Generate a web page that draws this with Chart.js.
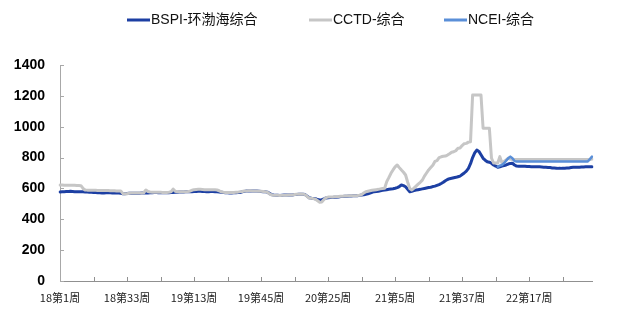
<!DOCTYPE html>
<html><head><meta charset="utf-8">
<script src="https://cdn.jsdelivr.net/npm/chart.js@4"></script>
<style>html,body{margin:0;padding:0;background:#fff}#wrap{width:628px;height:312px}</style>
</head><body><div id="wrap"><canvas id="c" width="628" height="312"></canvas></div>
<script>
const seriesNames = ['BSPI-环渤海综合', 'CCTD-综合', 'NCEI-综合'];
const yMin = 0, yMax = 1400, yStep = 200;
const labelEvery = 32, tickEvery = 16;
const years = [18, 19, 20, 21, 22];
const weeksPerYear = 52;
const pointCount = 255;
const weekLabels = [];
for (const yy of years) for (let w = 1; w <= weeksPerYear; w++) weekLabels.push(yy + '第' + w + '周');
weekLabels.length = pointCount;

const bspi = [
 577,578,579,580,580,581,580,579,579,578,578,578,577,577,576,
 575,574,573,572,572,571,571,572,572,572,571,571,570,570,569,
 566,566,567, 568,568,568,569,569,569,570,570, 571,571, 572,572,573,573,572,572,572,572,572,
 572,573,574,575, 576,577,577,577,578,578,578, 579,
 580,580,581,581,580,580,579,579,580,580,579,578,577, 575,
 573,572,572,571,571,572,572,573,574, 578,581,583,583,584,584,583,583,582,
 580,579,578,576, 568,560,557,556,
 556,555,556,557,557,558,557,558, 560,561,562,563,562,560, 550, 540,537,535,533, 528, 525,527, 532,538,
 540,541,542,543,543,544, 547, 548,549,550,551,551,552,552,553,555,557,
 559,562,565,570,575,579,580,582,585,588,590,
 592,594,596,598,601,605,612,622,618,611,
 595,579,582,586,590,592,594,597,600,603,
 606,608,612,615,620,625,632,640,650,658,
 663,666,669,672,676,680,690,700,712,730,
 760,800,830,849,840,818,795,783,773,770,
 763,752,
 745,737,740,745,748,752,758,762,763,752,
 745,744,744,743,743,742,742,741,741,741,
 741,740,739,738,737,736,735,733,732,731,
 730,730,731,731,732,733,735,737,737,738,
 738,739,739,740,740,741,741
];

const cctd = [
 622,622,621,621,621,620,620,620,619,619,618, 600,
 590,589,589,588,588,588,587,587,587,586,586,586,585,585,585,584,584,584,
 566,565,566, 569,570,570,570,571,571,571,572, 590, 580,577,576,575,575,575,575,574,574,574,
 575,578, 596, 582,579,578,578,578,579,580,582, 588,
 592,593,594,594,593,592,592,591,592,592,591,590,585, 578,
 575,574,574,573,573,574,575,576,578, 580,583,584,585,585,584,584,583,582,
 581,580,579,576, 565,558,556,555,
 555,554,555,556,556,557,557,558, 560,562,563,564,563,560, 548, 538,536,534,530, 520, 510,512, 528,540,
 544,545,545,546,546,547, 549, 550,551,551,552,552,553,553,554,556,560,
 570,579,582,585,588,590,592,594,597,600,601,
 644,670,698,720,740,752,735,719,705,687,
 640,600,590,602,615,628,640,654,680,700,
 720,735,750,775,780,800,805,808,810,816,
 825,835,838,845,860,862,878,890,892,900,
 903,1205,1205,1205,1205,1205,990,990,990,990,
 797,765,
 765,765,806,765,775,785,797,790,788,788,
 788,788,788,788,788,788,788,788,788,788,
 788,788,788,788,788,788,788,788,788,788,
 788,788,788,788,788,788,788,788,788,788,
 788,788,788,788,788,788,790
];

const nceiStart = 209;
const nceiValues = [
 740,748,752,763,780,795,806,795,777,
 775,775,775,775,775,775,775,775,775,775,
 775,775,775,775,775,775,775,775,775,775,
 775,775,775,775,775,775,775,775,775,775,
 775,775,775,775,775,
 790,806
];
const ncei = new Array(nceiStart).fill(null).concat(nceiValues);

const colors = ['#1c3fa3', '#c6c6c6', '#5a8fd8'];
const legendX = [127, 309, 444];

const axisTicksPlugin = {
  id: 'innerTicks',
  afterDraw(chart) {
    const {ctx, chartArea: a, scales: {x, y}} = chart;
    ctx.save();
    ctx.lineWidth = 1;
    ctx.strokeStyle = '#a8a8a8';
    y.ticks.forEach((t, k) => {
      const py = Math.round(y.getPixelForTick(k)) + 0.5;
      ctx.beginPath(); ctx.moveTo(a.left, py); ctx.lineTo(a.left + 4, py); ctx.stroke();
    });
    ctx.strokeStyle = '#909090';
    x.ticks.forEach((t, k) => {
      if (k > 0 && k % tickEvery === 0) {
        const px = Math.round(x.getPixelForTick(k)) + 0.5;
        ctx.beginPath(); ctx.moveTo(px, a.bottom); ctx.lineTo(px, a.bottom - 4); ctx.stroke();
      }
    });
    ctx.restore();
  }
};

const legendPlugin = {
  id: 'topLegend',
  afterDraw(chart) {
    const ctx = chart.ctx;
    ctx.save();
    ctx.font = '14px "Liberation Sans", "Noto Sans CJK SC", sans-serif';
    ctx.textBaseline = 'middle';
    chart.data.datasets.forEach((ds, k) => {
      const x0 = legendX[k], y0 = 20;
      ctx.strokeStyle = ds.borderColor; ctx.lineWidth = 3;
      ctx.beginPath(); ctx.moveTo(x0, y0); ctx.lineTo(x0 + 23, y0); ctx.stroke();
      ctx.fillStyle = '#111';
      ctx.fillText(ds.label, x0 + 24, y0);
    });
    ctx.restore();
  }
};

new Chart(document.getElementById('c'), {
  type: 'line',
  data: {
    labels: weekLabels,
    datasets: [
      {label: seriesNames[0], data: bspi, borderColor: colors[0], borderWidth: 3, order: 3},
      {label: seriesNames[1], data: cctd, borderColor: colors[1], borderWidth: 3, order: 2},
      {label: seriesNames[2], data: ncei, borderColor: colors[2], borderWidth: 2.5, order: 1}
    ]
  },
  options: {
    responsive: false,
    animation: false,
    devicePixelRatio: 1,
    layout: {padding: {left: 0, right: 36, top: 65, bottom: 0}},
    elements: {point: {radius: 0}, line: {tension: 0, borderJoinStyle: 'round', borderCapStyle: 'round'}},
    plugins: {legend: {display: false}, tooltip: {enabled: false}},
    scales: {
      x: {
        type: 'category',
        offset: false,
        grid: {display: false, drawTicks: false},
        border: {display: true, color: '#909090', width: 1},
        ticks: {
          autoSkip: false, maxRotation: 0, minRotation: 0, padding: 10,
          color: '#222',
          font: {family: '"Noto Sans CJK SC", sans-serif', size: 11},
          callback: function (v, i) { return i % labelEvery === 0 ? this.getLabelForValue(v) : ''; }
        },
        afterFit(s) { s.height = 31; }
      },
      y: {
        min: yMin, max: yMax,
        grid: {display: false, drawTicks: false},
        border: {display: true, color: '#a8a8a8', width: 1},
        ticks: {
          stepSize: yStep, padding: 15, color: '#000',
          font: {family: '"Liberation Sans", Arial, sans-serif', size: 14, weight: 'bold'},
          callback: (v) => String(v)
        },
        afterFit(s) { s.width = 60; }
      }
    }
  },
  plugins: [axisTicksPlugin, legendPlugin]
});
</script></body></html>
